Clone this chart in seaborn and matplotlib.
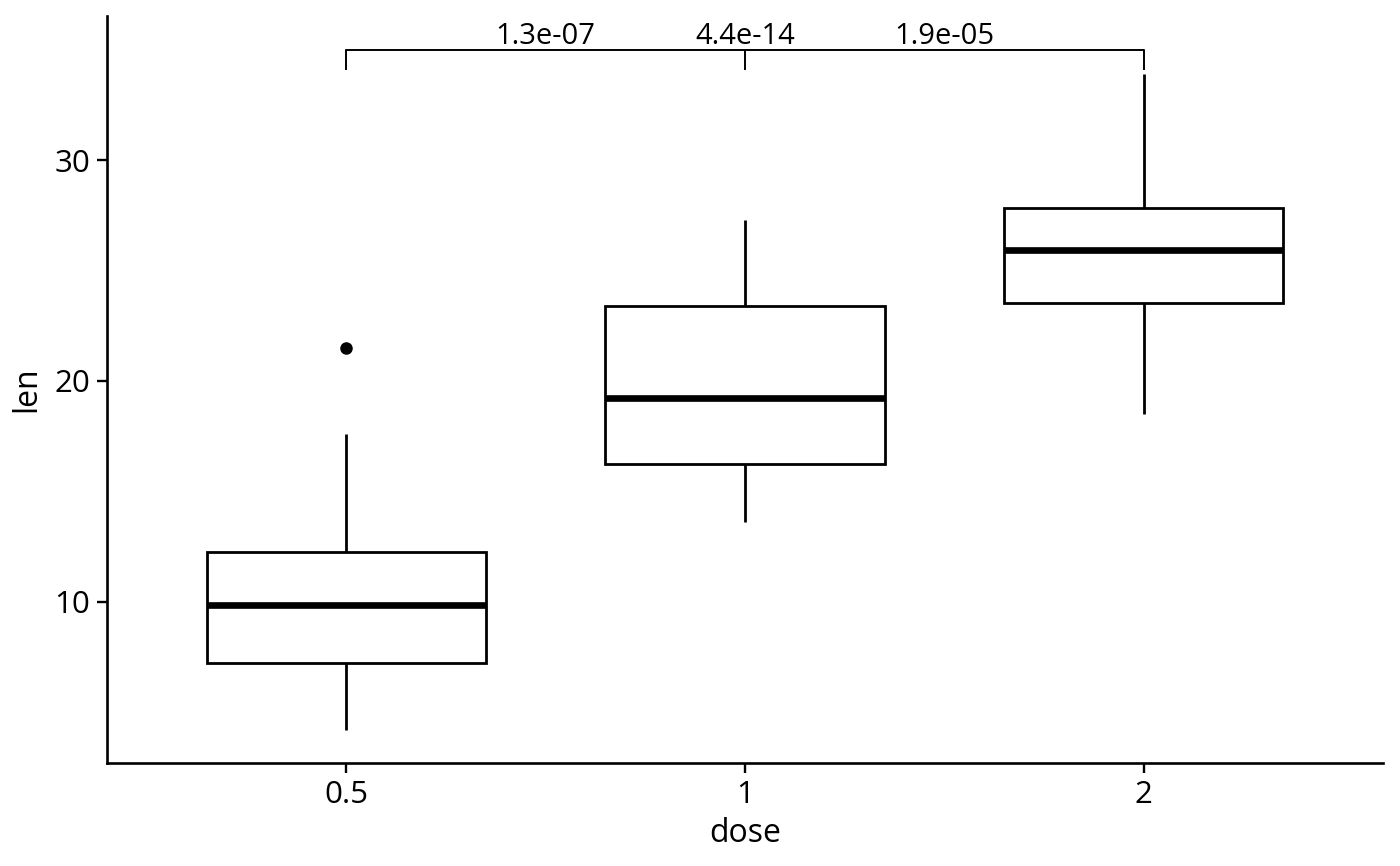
import numpy as np
import pandas as pd
import matplotlib
matplotlib.use("Agg")
import matplotlib.pyplot as plt
import seaborn as sns

# ToothGrowth len values by dose
dose_levels = ["0.5", "1", "2"]
len_d05 = [4.2, 11.5, 7.3, 5.8, 6.4, 10.0, 11.2, 11.2, 5.2, 7.0,
           15.2, 21.5, 17.6, 9.7, 14.5, 10.0, 8.2, 9.4, 16.5, 9.7]
len_d1 = [16.5, 16.5, 15.2, 17.3, 22.5, 17.3, 13.6, 14.5, 18.8, 15.5,
          19.7, 23.3, 23.6, 26.4, 20.0, 25.2, 25.8, 21.2, 14.5, 27.3]
len_d2 = [23.6, 18.5, 33.9, 25.5, 26.4, 32.5, 26.7, 21.5, 23.3, 29.5,
          25.5, 26.4, 22.4, 24.5, 24.8, 30.9, 26.4, 27.3, 29.4, 23.0]

comp_group1 = ["0.5", "0.5", "1"]
comp_group2 = ["1", "2", "2"]
comp_labels = ["1.3e-07", "4.4e-14", "1.9e-05"]
bracket_y = 35.0
tip_len = 0.93

df = pd.DataFrame({
    "dose": ["0.5"] * len(len_d05) + ["1"] * len(len_d1) + ["2"] * len(len_d2),
    "len": len_d05 + len_d1 + len_d2,
})

sns.set_theme(style="white")
plt.rcParams["font.family"] = ["Open Sans", "DejaVu Sans"]

fig = plt.figure(figsize=(14, 8.66), dpi=100)
ax = fig.add_axes([107 / 1400, 1 - 763 / 866, (1383 - 107) / 1400, (763 - 16) / 866])

sns.boxplot(data=df, x="dose", y="len", order=dose_levels, ax=ax,
            width=0.7, color="white", linecolor="black", linewidth=2.0,
            showcaps=False,
            medianprops=dict(linewidth=4.8, color="black"),
            flierprops=dict(marker="o", markerfacecolor="black",
                            markeredgecolor="black", markersize=8))

pos = {d: i for i, d in enumerate(dose_levels)}
for g1, g2, lab in zip(comp_group1, comp_group2, comp_labels):
    x1, x2 = pos[g1], pos[g2]
    ax.plot([x1, x1, x2, x2], [bracket_y - tip_len, bracket_y, bracket_y, bracket_y - tip_len],
            color="black", linewidth=1.2, solid_capstyle="butt", clip_on=False)
    ax.annotate(lab, xy=((x1 + x2) / 2, bracket_y), xytext=(0, 4),
                textcoords="offset points", ha="center", va="baseline",
                fontsize=21, color="black")

ax.set_xlim(-0.6, 2.6)
ax.set_ylim(2.71, 36.52)
ax.set_yticks([10, 20, 30])
ax.set_xlabel("dose", fontsize=23, color="black", labelpad=5)
ax.set_ylabel("len", fontsize=23, color="black", labelpad=8)
ax.tick_params(axis="both", which="major", labelsize=22.5, colors="black",
               length=7, width=1.7, direction="out", pad=5,
               bottom=True, left=True)
for s in ["top", "right"]:
    ax.spines[s].set_visible(False)
for s in ["left", "bottom"]:
    ax.spines[s].set_color("black")
    ax.spines[s].set_linewidth(1.9)

fig.savefig("out.png", dpi=100, facecolor="white")
